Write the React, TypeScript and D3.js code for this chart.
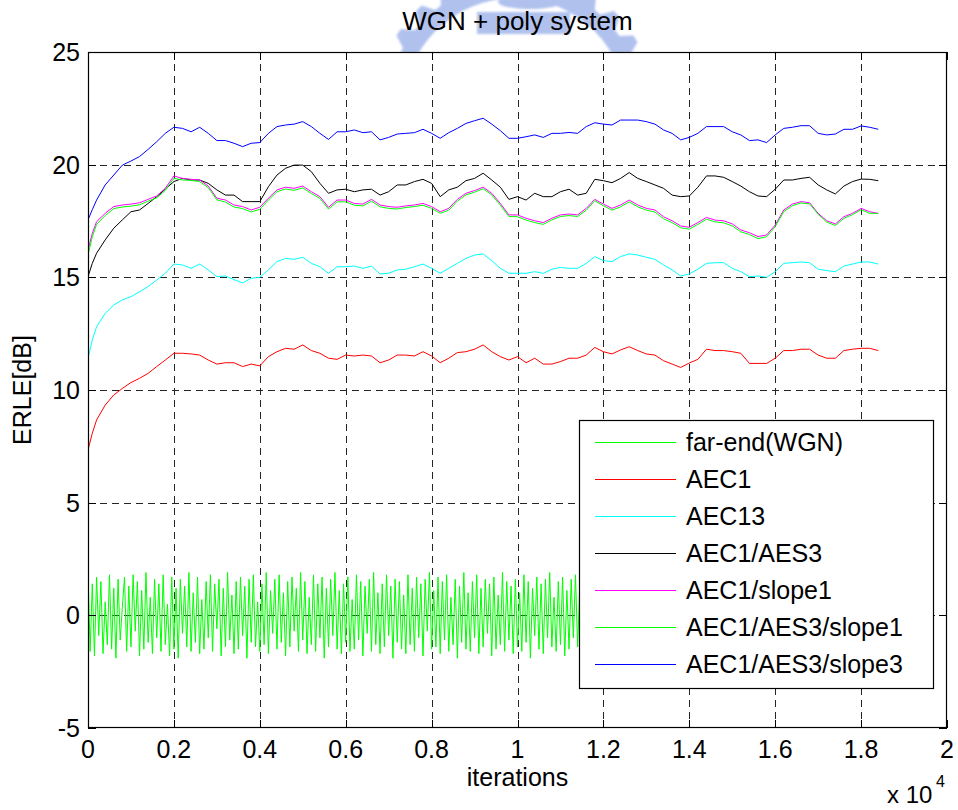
import React from "react";
import * as d3 from "d3";

// Sample grid for the ERLE curves (iterations)
const iterations = [0, 100, ...d3.range(200, 18401, 200)];

const aec1 = [
  7.34, 8.08, 8.67, 9.33, 9.78, 10.07, 10.33, 10.52, 10.74, 11.04, 11.33, 11.63,
  11.63, 11.6, 11.55, 11.33, 11.15, 11.21, 11.21, 11.04, 11.15, 11.07,
  11.48, 11.7, 11.85, 11.81, 12.0, 11.75, 11.63, 11.41, 11.36, 11.55, 11.51, 11.55, 11.51, 11.21,
  11.33, 11.55, 11.55, 11.51, 11.7, 11.51, 11.21, 11.41, 11.66, 11.7,
  11.81, 12.0, 11.7, 11.48, 11.33, 11.48, 11.21, 11.41, 11.15, 11.15,
  11.26, 11.41, 11.41, 11.55, 11.89, 11.7, 11.6, 11.78, 11.92, 11.75,
  11.6, 11.55, 11.3, 11.15,
  11.0, 11.2, 11.36, 11.81, 11.75, 11.75, 11.7, 11.63, 11.18, 11.18, 11.18, 11.41,
  11.75, 11.75, 11.81, 11.81, 11.55, 11.41, 11.41, 11.75, 11.81, 11.85, 11.85, 11.75,
];

const aec13 = [
  11.4, 12.22, 12.81, 13.4, 13.77, 14.0, 14.14, 14.36, 14.59, 14.88, 15.18, 15.59,
  15.55, 15.4, 15.59, 15.33, 15.03, 15.06, 14.9, 14.75, 14.96, 15.0,
  15.33, 15.7, 15.84, 15.8, 15.89, 15.62, 15.47, 15.18, 15.47, 15.47, 15.5, 15.4, 15.5, 15.15,
  15.18, 15.33, 15.36, 15.47, 15.59, 15.4, 15.18, 15.4, 15.62, 15.84,
  15.99, 16.04, 15.74, 15.4, 15.18, 15.18, 15.18, 15.25, 15.18, 15.36,
  15.44, 15.4, 15.4, 15.62, 15.92, 15.74, 15.7, 15.92, 16.04, 15.99,
  15.89, 15.8, 15.55, 15.33,
  15.06, 15.15, 15.36, 15.62, 15.65, 15.65, 15.4, 15.25, 15.03, 15.06, 15.0, 15.25,
  15.62, 15.65, 15.68, 15.65, 15.36, 15.3, 15.25, 15.5, 15.59, 15.68, 15.68, 15.59,
];

const aec1Aes3 = [
  15.03, 15.62, 16.07, 16.66, 17.18, 17.55, 17.91, 17.99, 18.28, 18.58, 18.91, 19.25,
  19.39, 19.32, 19.32, 19.17, 18.88, 18.65, 18.65, 18.36, 18.36, 18.36,
  19.02, 19.54, 19.84, 19.98, 19.98, 19.69, 19.17, 18.73, 18.88, 18.91, 18.8, 18.88, 18.91, 18.65,
  18.8, 19.1, 19.1, 19.25, 19.35, 19.17, 18.58, 18.88, 19.0, 19.29,
  19.39, 19.62, 19.32, 19.0, 18.46, 18.58, 18.43, 18.73, 18.58, 18.58,
  18.8, 18.91, 18.65, 18.73, 19.35, 19.29, 19.2, 19.39, 19.65, 19.39,
  19.25, 19.1, 18.95, 18.65,
  18.58, 18.61, 19.0, 19.5, 19.5, 19.44, 19.25, 19.05, 18.8, 18.61, 18.58, 18.91,
  19.32, 19.32, 19.39, 19.44, 19.1, 18.88, 18.7, 19.05, 19.25, 19.36, 19.35, 19.29,
];

const aec1Slope1 = [
  16.21, 16.95, 17.47, 17.84, 18.14, 18.21, 18.25, 18.31, 18.46, 18.61, 18.95, 19.5,
  19.39, 19.35, 19.32, 19.05, 18.51, 18.43, 18.21, 18.14, 17.99, 18.11,
  18.51, 18.88, 19.0, 18.95, 19.05, 18.8, 18.58, 18.11, 18.43, 18.43, 18.28, 18.25, 18.46, 18.21,
  18.14, 18.11, 18.17, 18.21, 18.28, 18.14, 17.91, 18.06, 18.46, 18.73,
  18.85, 19.0, 18.73, 18.28, 17.77, 17.77, 17.62, 17.51, 17.43, 17.62,
  17.77, 17.81, 17.77, 18.06, 18.46, 18.25, 18.06, 18.21, 18.43, 18.21,
  18.06, 17.99, 17.69, 17.51,
  17.28, 17.22, 17.43, 17.66, 17.54, 17.51, 17.37, 17.1, 16.98, 16.81, 16.88, 17.32,
  17.99, 18.25, 18.36, 18.31, 17.84, 17.51, 17.37, 17.69, 17.84, 18.06, 17.91, 17.84,
];

const aec1Aes3Slope1 = [
  16.0, 16.8, 17.35, 17.74, 18.05, 18.12, 18.16, 18.22, 18.38, 18.53, 18.86, 19.4,
  19.32, 19.3, 19.25, 18.98, 18.44, 18.34, 18.12, 18.05, 17.9, 18.02,
  18.43, 18.8, 18.92, 18.86, 18.97, 18.72, 18.5, 18.03, 18.35, 18.35, 18.2, 18.17, 18.38, 18.13,
  18.06, 18.03, 18.1, 18.14, 18.2, 18.06, 17.84, 17.98, 18.38, 18.66,
  18.78, 18.93, 18.66, 18.2, 17.7, 17.69, 17.54, 17.43, 17.35, 17.55,
  17.7, 17.74, 17.7, 17.98, 18.4, 18.18, 17.98, 18.13, 18.35, 18.13,
  17.98, 17.9, 17.6, 17.43,
  17.2, 17.14, 17.35, 17.58, 17.46, 17.42, 17.28, 17.02, 16.9, 16.72, 16.8, 17.25,
  17.92, 18.18, 18.3, 18.26, 17.8, 17.45, 17.3, 17.62, 17.78, 18.0, 17.84, 17.84,
];

const aec1Aes3Slope3 = [
  17.55, 18.0, 18.43, 19.1, 19.54, 19.98, 20.16, 20.36, 20.68, 21.02, 21.39, 21.66,
  21.61, 21.46, 21.66, 21.39, 21.07, 21.07, 20.95, 20.8, 20.95, 20.98,
  21.39, 21.69, 21.76, 21.8, 21.91, 21.69, 21.39, 21.12, 21.46, 21.46, 21.54, 21.42, 21.46, 21.1,
  21.21, 21.36, 21.39, 21.42, 21.57, 21.39, 21.17, 21.42, 21.61, 21.83,
  21.95, 22.06, 21.8, 21.51, 21.17, 21.17, 21.24, 21.32, 21.21, 21.39,
  21.39, 21.43, 21.39, 21.69, 21.86, 21.8, 21.76, 21.98, 21.98, 21.98,
  21.91, 21.8, 21.54, 21.39,
  21.1, 21.21, 21.39, 21.69, 21.69, 21.69, 21.46, 21.32, 21.07, 21.1, 20.98, 21.32,
  21.61, 21.66, 21.73, 21.73, 21.39, 21.32, 21.36, 21.57, 21.57, 21.72, 21.66, 21.57,
];

// Far-end white Gaussian noise, sampled every 50 iterations
const farEndIterations = d3.range(0, 18401, 50);
const farEnd = [
  1.9, -1.6, 1.4, -1.8, 1.7, -0.9, 1.5, -1.7, 0.6, -1.3, 1.8, -1.5, 1.2, -1.9, 1.6, -1.1, 0.4, 1.7, -1.6, 1.3,
  -1.4, 1.8, -0.7, 1.5, -1.8, 1.1, -1.5, 1.9, -1.2, 0.8, -1.7, 1.6, -1.0, 1.4, -1.6, 1.8, -1.3, 0.5, -1.8, 1.7,
  -1.5, 1.2, -1.9, 1.6, -0.8, 1.3, -1.4, 1.9, -1.6, 1.0, -1.2, 1.7, -1.7, 0.7, -1.5, 1.5, -1.0, 1.8, -1.6, 1.4,
  -0.6, 1.6, -1.8, 1.2, -1.4, 1.9, -1.1, 0.9, -1.7, 1.5, -1.5, 1.7, -0.9, 1.3, -1.9, 1.6, -1.2, 1.8, -1.4, 0.6,
  -1.6, 1.4, -1.3, 1.9, -1.7, 1.1, -0.8, 1.6, -1.5, 1.8, -1.2, 1.0, -1.8, 1.5, -1.4, 1.7, -0.7, 1.2, -1.6, 1.9,
  -1.1, 1.5, -1.7, 0.8, -1.3, 1.8, -1.6, 1.4, -1.0, 1.7, -1.9, 1.2, -1.4, 1.6, -0.9, 1.9, -1.5, 1.1, -1.7, 1.4,
  -1.2, 1.7, -1.6, 0.7, -1.5, 1.8, -1.1, 1.5, -1.8, 1.3, -0.8, 1.6, -1.6, 1.9, -1.3, 1.0, -1.7, 1.4, -1.4, 1.8,
  -0.9, 1.3, -1.9, 1.6, -1.2, 1.5, -1.5, 0.9, -1.7, 1.8, -1.3, 1.2, -1.6, 1.7, -1.0, 1.4, -1.8, 1.6, -0.7, 1.9,
  -1.5, 1.1, -1.4, 1.7, -1.7, 1.5, -1.1, 1.8, -1.6, 0.8, -1.3, 1.6, -1.9, 1.3, -1.2, 1.9, -1.5, 1.0, -1.6, 1.5,
  -1.0, 1.8, -1.7, 1.2, -1.4, 1.6, -0.8, 1.4, -1.8, 1.7, -1.5, 0.9, -1.3, 1.9, -1.6, 1.5, -1.1, 1.3, -1.7, 1.6,
  -1.4, 1.0, -1.6, 1.8, -1.2, 1.5, -1.9, 1.2, -0.9, 1.7, -1.5, 1.4, -1.7, 1.6, -1.0, 1.9, -1.4, 0.8, -1.6, 1.5,
  -1.3, 1.7, -1.8, 1.1, -1.5, 1.6, -1.0, 1.8, -1.4, 1.3, -1.7, 0.7, -1.2, 1.9, -1.6, 1.4, -1.5, 1.6, -0.8, 1.2,
  -1.7, 1.5, -1.3, 1.8, -1.1, 1.0, -1.6, 1.7, -1.4, 1.5, -1.8, 1.3, -0.9, 1.6, -1.5, 1.9, -1.2, 1.1, -1.7, 1.4,
  -1.5, 1.8, -1.0, 1.3, -1.6, 1.6, -1.4, 0.9, -1.8, 1.7, -1.2, 1.5, -1.5, 1.2, -1.9, 1.8, -1.1, 1.4, -1.6, 1.0,
  -1.3, 1.7, -1.7, 1.5, -0.8, 1.9, -1.5, 1.2, -1.4, 1.6, -1.6, 1.1, -1.2, 1.8, -1.7, 1.4, -1.0, 1.6, -1.5, 1.7,
  -1.8, 1.2, -1.3, 1.5, -1.6, 1.8, -0.9, 1.4, -1.7, 1.0, -1.4, 1.7, -1.5, 1.6, -1.1, 1.3, -1.8, 1.9, -1.3, 0.8,
  -1.6, 1.5, -1.2, 1.7, -1.5, 1.1, -1.7, 1.8, -1.0, 1.4, -1.6, 1.6, -1.3, 0.9, -1.8, 1.5, -1.4, 1.7, -1.1, 1.3,
  -1.5, 1.8, -1.6, 1.2, -0.9, 1.6, -1.7, 1.4, -1.3, 1.9, -1.2, 1.0, -1.6, 1.5, -1.5, 1.7, -1.0, 1.3, -1.8, 1.6,
  -1.4, 1.2, -1.7, 1.5, -1.1, 1.8, -1.5, 1.3, -1.2,
];

const seriesNames = [
  "far-end(WGN)",
  "AEC1",
  "AEC13",
  "AEC1/AES3",
  "AEC1/slope1",
  "AEC1/AES3/slope1",
  "AEC1/AES3/slope3",
];
const seriesColors = ["#00ff00", "#ff0000", "#00ffff", "#000000", "#ff00ff", "#00ff00", "#0000ff"];

const xTicks = d3.range(0, 20001, 2000);
const yTicks = [-5, 0, 5, 10, 15, 20, 25];

const FONT = "'Liberation Sans', Arial, Helvetica, sans-serif";
const W = 958;
const H = 810;
const left = 88;
const right = 947;
const top = 52;
const bottom = 728;

function gearPath(cx: number, cy: number, rOut: number, rTooth: number, rIn: number, teeth: number) {
  const pts: string[] = [];
  const n = teeth * 4;
  for (let i = 0; i < n; i++) {
    const a = (i / n) * Math.PI * 2;
    const r = i % 4 < 2 ? rTooth : rOut;
    pts.push(`${(cx + r * Math.cos(a)).toFixed(1)},${(cy + r * Math.sin(a)).toFixed(1)}`);
  }
  const outer = "M" + pts.join("L") + "Z";
  const inner = `M${cx + rIn},${cy}A${rIn},${rIn} 0 1,0 ${cx - rIn},${cy}A${rIn},${rIn} 0 1,0 ${cx + rIn},${cy}Z`;
  return outer + inner;
}

export default function App() {
  const x = d3.scaleLinear().domain([0, 20000]).range([left, right]);
  const y = d3.scaleLinear().domain([-5, 25]).range([bottom, top]);

  const line = d3
    .line<[number, number]>()
    .x((d) => x(d[0]))
    .y((d) => y(d[1]));

  const curves = [aec1, aec13, aec1Aes3, aec1Slope1, aec1Aes3Slope1, aec1Aes3Slope3];
  const farPts = farEndIterations
    .map((it, i) => [it, farEnd[i]] as [number, number])
    .filter((d) => d[1] !== undefined);

  const legendX = 579.5;
  const legendY = 420.5;
  const legendW = 354;
  const legendH = 268;
  const rowGap = 37;

  return (
    <div style={{ position: "absolute", left: 0, top: 0, width: W, height: H, background: "#fff" }}>
      <svg width={W} height={H} style={{ display: "block" }} fontFamily={FONT}>
        <defs>
          <filter id="soft" x="-20%" y="-20%" width="140%" height="140%">
            <feGaussianBlur stdDeviation="1.2" />
          </filter>
          <clipPath id="plotClip">
            <rect x={left} y={top} width={right - left} height={bottom - top} />
          </clipPath>
        </defs>
        <rect x={0} y={0} width={W} height={H} fill="#fff" />

        {/* faded emblem behind the title */}
        <g filter="url(#soft)" opacity={0.55} fill="#6f8fe0">
          <path d={gearPath(515, 110, 140, 128, 112, 28)} fillRule="evenodd" />
          <rect x={477} y={12} width={93} height={22} />
          <ellipse cx={530} cy={2} rx={32} ry={7} />
        </g>

        {/* axes background */}
        <rect x={left} y={top} width={right - left} height={bottom - top} fill="#fff" />

        {/* grid */}
        <g stroke="#000" strokeWidth={1} strokeDasharray="7,5" opacity={0.85}>
          {xTicks
            .filter((t) => t > 0 && t < 20000)
            .map((t) => (
              <line key={"gx" + t} x1={Math.round(x(t)) + 0.5} x2={Math.round(x(t)) + 0.5} y1={top} y2={bottom} />
            ))}
          {yTicks
            .filter((t) => t > -5 && t < 25)
            .map((t) => (
              <line key={"gy" + t} x1={left} x2={right} y1={Math.round(y(t)) + 0.5} y2={Math.round(y(t)) + 0.5} />
            ))}
        </g>

        {/* data */}
        <g clipPath="url(#plotClip)" fill="none" strokeWidth={1}>
          <path d={line(farPts) || ""} stroke={seriesColors[0]} />
          {curves.map((vals, k) => {
            const pts = iterations
              .map((it, i) => [it, vals[i]] as [number, number])
              .filter((d) => d[1] !== undefined);
            return <path key={k} d={line(pts) || ""} stroke={seriesColors[k + 1]} />;
          })}
        </g>

        {/* ticks */}
        <g stroke="#000" strokeWidth={1}>
          {xTicks.map((t) => {
            const px = Math.round(x(t)) + 0.5;
            return (
              <g key={"tx" + t}>
                <line x1={px} x2={px} y1={bottom} y2={bottom - 8} />
                <line x1={px} x2={px} y1={top} y2={top + 8} />
              </g>
            );
          })}
          {yTicks.map((t) => {
            const py = Math.round(y(t)) + 0.5;
            return (
              <g key={"ty" + t}>
                <line x1={left} x2={left + 8} y1={py} y2={py} />
                <line x1={right} x2={right - 8} y1={py} y2={py} />
              </g>
            );
          })}
        </g>

        {/* frame */}
        <rect
          x={left + 0.5}
          y={top + 0.5}
          width={right - left - 1}
          height={bottom - top - 1}
          fill="none"
          stroke="#000"
          strokeWidth={1.2}
        />

        {/* tick labels */}
        <g fontSize={25} fill="#000">
          {xTicks.map((t) => (
            <text key={"lx" + t} x={x(t)} y={758} textAnchor="middle">
              {String(+(t / 10000).toFixed(1))}
            </text>
          ))}
          {yTicks.map((t) => (
            <text key={"ly" + t} x={80} y={y(t) + 9} textAnchor="end">
              {String(t)}
            </text>
          ))}
        </g>

        {/* titles */}
        <text x={(left + right) / 2} y={30} fontSize={26} textAnchor="middle" fill="#000">
          WGN + poly system
        </text>
        <text x={(left + right) / 2} y={786} fontSize={25} textAnchor="middle" fill="#000">
          iterations
        </text>
        <text
          transform={`translate(31,${(top + bottom) / 2}) rotate(-90)`}
          fontSize={25}
          textAnchor="middle"
          fill="#000"
        >
          ERLE[dB]
        </text>
        <text x={887} y={803} fontSize={24} fill="#000">
          x 10
        </text>
        <text x={936} y={787} fontSize={16} fill="#000">
          4
        </text>

        {/* legend */}
        <g>
          <rect x={legendX} y={legendY} width={legendW} height={legendH} fill="#fff" stroke="#000" strokeWidth={1.2} />
          {seriesNames.map((name, i) => {
            const cy = 442 + i * rowGap;
            return (
              <g key={name}>
                <line x1={595} x2={676} y1={cy + 0.5} y2={cy + 0.5} stroke={seriesColors[i]} strokeWidth={1} />
                <text x={686} y={cy + 9} fontSize={25} fill="#000">
                  {name}
                </text>
              </g>
            );
          })}
        </g>
      </svg>
    </div>
  );
}
